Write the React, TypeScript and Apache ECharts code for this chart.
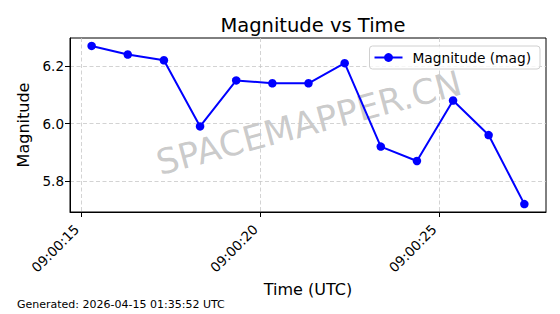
import React, { useEffect, useRef } from "react";
import * as echarts from "echarts";

const timeLabels = [
  "09:00:15.281", "09:00:16.292", "09:00:17.303", "09:00:18.315", "09:00:19.326",
  "09:00:20.337", "09:00:21.348", "09:00:22.360", "09:00:23.371", "09:00:24.382",
  "09:00:25.393", "09:00:26.388", "09:00:27.388",
];
const magnitudes = [6.27, 6.24, 6.22, 5.99, 6.15, 6.14, 6.14, 6.21, 5.92, 5.87, 6.08, 5.96, 5.72];
const xTickSeconds = [15, 20, 25];
const yTicks = [5.8, 6.0, 6.2];

const FONT = "DejaVu Sans";

function toSec(t: string): number {
  const [h, m, s] = t.split(":");
  return (Number(h) - 9) * 3600 + Number(m) * 60 + Number(s);
}

function fmtTime(v: number): string {
  const s = Math.round(v);
  const ss = String(s % 60).padStart(2, "0");
  const mm = String(Math.floor(s / 60)).padStart(2, "0");
  return `09:${mm}:${ss}`;
}

export default function App() {
  const ref = useRef<HTMLDivElement>(null);
  useEffect(() => {
    document.body.style.margin = "0";
    if (!ref.current) return;
    const chart = echarts.init(ref.current, undefined, { renderer: "svg" });
    const xs = timeLabels.map(toSec);
    const xMinD = Math.min(...xs), xMaxD = Math.max(...xs);
    const xPad = (xMaxD - xMinD) * 0.05;
    const yMinD = Math.min(...magnitudes), yMaxD = Math.max(...magnitudes);
    const yPad = (yMaxD - yMinD) * 0.05;
    const gridLine = { show: true, lineStyle: { color: "#c8c8c8", width: 0.8, type: [4, 2.5] as any } };
    chart.setOption({
      animation: false,
      textStyle: { fontFamily: FONT },
      title: {
        text: "Magnitude vs Time",
        left: 308,
        top: 10,
        textAlign: "center",
        textStyle: { fontFamily: FONT, fontSize: 19.5, fontWeight: "normal", color: "#000" },
      },
      grid: {
        left: 70, right: 14, top: 38, bottom: 102,
        show: true, borderColor: "#000", borderWidth: 1, backgroundColor: "transparent",
      },
      legend: {
        right: 20,
        top: 46,
        data: ["Magnitude (mag)"],
        itemWidth: 28,
        itemHeight: 11,
        itemGap: 10,
        padding: [4.5, 9, 4.5, 4],
        borderColor: "#d0d0d0",
        borderWidth: 1,
        borderRadius: 3,
        backgroundColor: "rgba(255,255,255,0.8)",
        textStyle: { fontFamily: FONT, fontSize: 13.75, color: "#000", padding: [0, 0, 0, 5] },
      },
      xAxis: {
        type: "value",
        min: xMinD - xPad,
        max: xMaxD + xPad,
        name: "Time (UTC)",
        nameLocation: "middle",
        nameGap: 69,
        nameTextStyle: { fontFamily: FONT, fontSize: 16, color: "#000" },
        axisLine: { show: true, lineStyle: { color: "#000", width: 1 } },
        axisTick: { show: true, inside: false, length: 5, lineStyle: { color: "#000" }, customValues: xTickSeconds },
        axisLabel: {
          customValues: xTickSeconds,
          rotate: 45,
          margin: 10,
          padding: [0, 7, 0, 0],
          fontFamily: FONT,
          fontSize: 13.5,
          color: "#000",
          formatter: (v: number) => fmtTime(v),
        },
        splitLine: gridLine,
      },
      yAxis: {
        type: "value",
        min: yMinD - yPad,
        max: yMaxD + yPad,
        name: "Magnitude",
        nameLocation: "middle",
        nameGap: 38,
        nameTextStyle: { fontFamily: FONT, fontSize: 16, color: "#000" },
        axisLine: { show: true, lineStyle: { color: "#000", width: 1 } },
        axisTick: { show: true, inside: false, length: 5, lineStyle: { color: "#000" }, customValues: yTicks },
        axisLabel: {
          customValues: yTicks,
          margin: 6,
          fontFamily: FONT,
          fontSize: 13.5,
          color: "#000",
          formatter: (v: number) => v.toFixed(1),
        },
        splitLine: gridLine,
      },
      graphic: [
        {
          type: "text",
          x: 309,
          y: 123,
          rotation: (15 * Math.PI) / 180,
          z: -1,
          silent: true,
          style: {
            text: "SPACEMAPPER.CN",
            fontFamily: FONT,
            fontSize: 35,
            fill: "rgba(128,128,128,0.42)",
            textAlign: "center",
            textVerticalAlign: "middle",
          },
        },
        {
          type: "text",
          left: 17,
          top: 299,
          style: {
            text: "Generated: 2026-04-15 01:35:52 UTC",
            fontFamily: FONT,
            fontSize: 11,
            fill: "#000",
          },
        },
      ],
      series: [
        {
          name: "Magnitude (mag)",
          type: "line",
          data: xs.map((x, i) => [x, magnitudes[i]]),
          symbol: "circle",
          symbolSize: 8.5,
          lineStyle: { color: "#0000ff", width: 2 },
          itemStyle: { color: "#0000ff" },
          z: 5,
        },
      ],
    });
    return () => chart.dispose();
  }, []);
  return <div ref={ref} style={{ width: 560, height: 314 }} />;
}
